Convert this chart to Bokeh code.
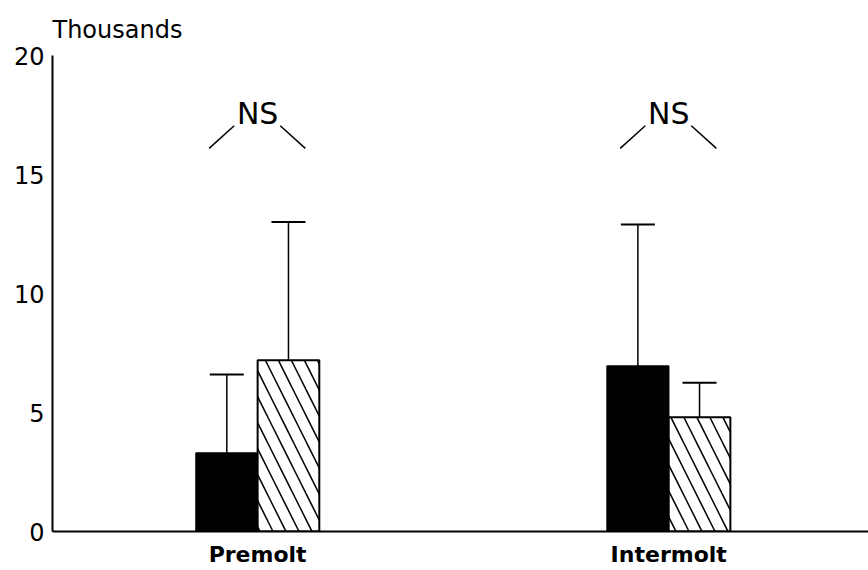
from bokeh.plotting import figure
from bokeh.models import Range1d, FixedTicker, ColumnDataSource, Whisker, TeeHead
from bokeh.core.properties import value
from bokeh.embed import file_html
from bokeh.resources import INLINE

# ---- data ----
categories = ["Premolt", "Intermolt"]
black_mean = [3.3, 6.95]
black_err = [3.3, 5.95]
hatched_mean = [7.2, 4.8]
hatched_err = [5.8, 1.45]
significance = ["NS", "NS"]
y_ticks = [0, 5, 10, 15, 20]
y_label = "Thousands"

FONT = "DejaVu Sans"
bar_w = 0.15
xs = list(range(len(categories)))

p = figure(width=868, height=570, output_backend="svg", toolbar_location=None,
           x_range=Range1d(-0.499, 1.486), y_range=Range1d(0, 20),
           min_border_left=52, min_border_right=0, min_border_top=55, min_border_bottom=39)
p.outline_line_color = None
p.xgrid.grid_line_color = None
p.ygrid.grid_line_color = None
p.background_fill_color = "white"
p.border_fill_color = "white"

# title
p.title.text = y_label
p.title.align = "left"
p.title.text_font = FONT
p.title.text_font_size = "24px"
p.title.text_font_style = "normal"
p.title.text_color = "black"
p.title.standoff = 24

# y axis
p.yaxis.ticker = FixedTicker(ticks=y_ticks)
p.yaxis.minor_tick_line_color = None
p.yaxis.major_tick_line_color = None
p.yaxis.major_tick_out = 0
p.yaxis.major_tick_in = 0
p.yaxis.axis_line_width = 2
p.yaxis.axis_line_color = "black"
p.yaxis.major_label_text_font = FONT
p.yaxis.major_label_text_font_size = "24px"
p.yaxis.major_label_text_color = "black"
p.yaxis.major_label_standoff = 8

# x axis
p.xaxis.ticker = FixedTicker(ticks=xs)
p.xaxis.major_label_overrides = {i: c for i, c in zip(xs, categories)}
p.xaxis.minor_tick_line_color = None
p.xaxis.major_tick_line_color = None
p.xaxis.major_tick_out = 0
p.xaxis.major_tick_in = 0
p.xaxis.axis_line_width = 2
p.xaxis.axis_line_color = "black"
p.xaxis.major_label_text_font = FONT
p.xaxis.major_label_text_font_size = "22px"
p.xaxis.major_label_text_font_style = "bold"
p.xaxis.major_label_text_color = "black"
p.xaxis.major_label_standoff = 10

# bars
bx = [x - bar_w / 2 for x in xs]
hx = [x + bar_w / 2 for x in xs]
src_b = ColumnDataSource(dict(x=bx, top=black_mean, upper=[m + e for m, e in zip(black_mean, black_err)]))
src_h = ColumnDataSource(dict(x=hx, top=hatched_mean, upper=[m + e for m, e in zip(hatched_mean, hatched_err)]))

for src in (src_b, src_h):
    w = Whisker(source=src, base="x", lower="top", upper="upper", dimension="height",
                line_color="black", line_width=1.5,
                upper_head=TeeHead(size=34, line_color="black", line_width=2), lower_head=None)
    p.add_layout(w)

p.vbar(x="x", top="top", bottom=0, width=bar_w, source=src_b,
       fill_color="black", line_color="black", line_width=1.5)
p.vbar(x="x", top="top", bottom=0, width=bar_w, source=src_h,
       fill_color="white", line_color="black", line_width=2,
       hatch_pattern="\\", hatch_color="black", hatch_weight=1.5, hatch_scale=26)

# significance annotations
ns_y = 17.55
p.text(x=xs, y=[ns_y] * len(xs), text=significance, text_font=value(FONT),
       text_font_size="30px", text_align="center", text_baseline="middle", text_color="black")
x0 = [x - 0.118 for x in xs] + [x + 0.055 for x in xs]
x1 = [x - 0.057 for x in xs] + [x + 0.116 for x in xs]
y0 = [16.1] * len(xs) + [17.05] * len(xs)
y1 = [17.05] * len(xs) + [16.1] * len(xs)
p.segment(x0=x0, y0=y0, x1=x1, y1=y1, line_color="black", line_width=1.5)

open("out.html", "w").write(file_html(p, INLINE))
